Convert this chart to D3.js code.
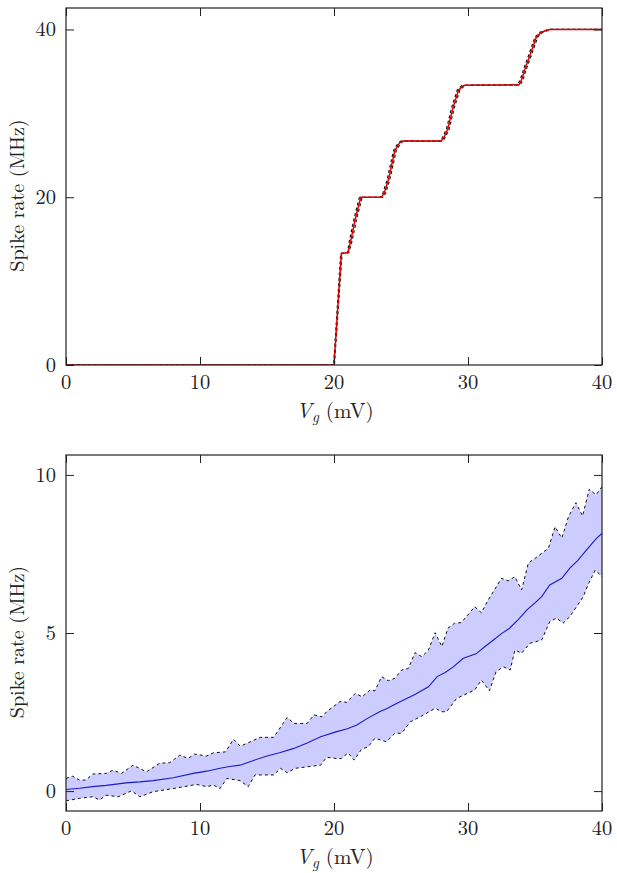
<!DOCTYPE html>
<html><head><meta charset="utf-8">
<script src="https://cdn.jsdelivr.net/npm/d3@7"></script>
<style>body{margin:0;background:#fff}svg{display:block}</style>
</head><body><svg id="c" width="617" height="873"></svg>
<script>
// ---------- Top panel data ----------
const topTicksX = [0, 10, 20, 30, 40];
const topTicksY = [0, 20, 40];
const topMeanX  = [0, 20.0, 20.55, 21.05, 21.25, 21.6, 22.0, 23.55, 23.75, 24.05, 24.55, 24.9, 25.1, 28.0, 28.2, 28.5, 28.9, 29.3, 29.65, 29.8, 33.8, 34.0, 34.3, 34.6, 35.1, 35.5, 36.1, 40];
const topMeanY  = [0, 0, 13.3, 13.4, 14.8, 17.5, 20.0, 20.0, 20.5, 22.0, 25.6, 26.5, 26.7, 26.7, 27.1, 28.2, 30.8, 32.8, 33.3, 33.35, 33.4, 34.0, 35.5, 36.8, 39.1, 39.7, 40.0, 40];
const topUpperX = [0, 19.97, 20.5, 21.0, 21.15, 21.5, 21.9, 23.45, 23.65, 23.95, 24.45, 24.8, 25.0, 27.9, 28.1, 28.4, 28.8, 29.2, 29.55, 29.7, 33.7, 33.9, 34.2, 34.5, 35.0, 35.4, 36.0, 40];
const topLowerX = [0, 20.03, 20.6, 21.1, 21.35, 21.7, 22.1, 23.65, 23.85, 24.15, 24.65, 25.0, 25.2, 28.1, 28.3, 28.6, 29.0, 29.4, 29.75, 29.9, 33.9, 34.1, 34.4, 34.7, 35.2, 35.6, 36.2, 40];

// ---------- Bottom panel data ----------
const botTicksX = [0, 10, 20, 30, 40];
const botTicksY = [0, 5, 10];
const botMeanX = [0, 1.0, 2.0, 3.0, 4.5, 5.5, 6.5, 8.0, 9.5, 10.5, 11.5, 12.2, 13.0, 14.0, 15.0, 16.0, 17.0, 18.0, 19.0, 20.2, 21.0, 21.7, 22.5, 23.4, 24.0, 24.7, 26.0, 27.05, 27.7, 28.3, 28.9, 29.65, 30.6, 31.2, 31.9, 32.5, 33.1, 33.8, 34.4, 35.0, 35.5, 36.1, 37.0, 37.6, 38.2, 38.85, 39.6, 40];
const botMeanY = [0.05, 0.09, 0.14, 0.18, 0.26, 0.29, 0.33, 0.42, 0.56, 0.63, 0.72, 0.78, 0.82, 0.97, 1.11, 1.22, 1.35, 1.52, 1.72, 1.88, 1.97, 2.09, 2.30, 2.51, 2.62, 2.78, 3.05, 3.30, 3.62, 3.75, 3.93, 4.20, 4.34, 4.55, 4.78, 4.98, 5.15, 5.45, 5.73, 5.95, 6.15, 6.52, 6.73, 7.05, 7.30, 7.63, 8.0, 8.15];
const botUpperX = [0, 0.5, 1.0, 1.5, 2.0, 3.0, 3.5, 4.15, 5.0, 6.0, 7.0, 7.75, 8.5, 9.1, 9.6, 10.5, 11.0, 11.9, 12.5, 13.0, 13.5, 14.5, 15.5, 16.5, 17.0, 18.0, 18.5, 19.1, 19.45, 20.45, 20.95, 21.6, 22.1, 22.7, 23.05, 23.55, 24.05, 24.55, 25.05, 25.55, 26.05, 26.55, 27.05, 27.55, 28.05, 28.5, 29.0, 29.5, 30.5, 31.0, 31.5, 32.5, 33.0, 33.5, 34.0, 34.5, 35.0, 36.0, 36.5, 37.0, 37.5, 38.05, 38.55, 39.05, 39.55, 40];
const botUpperY = [0.40, 0.47, 0.35, 0.35, 0.54, 0.56, 0.66, 0.56, 0.82, 0.61, 0.88, 0.90, 1.14, 1.03, 1.17, 1.11, 1.21, 1.24, 1.64, 1.42, 1.51, 1.70, 1.70, 2.33, 2.14, 2.14, 2.41, 2.35, 2.51, 2.83, 2.81, 3.09, 2.98, 3.20, 3.17, 3.62, 3.49, 3.57, 3.83, 3.88, 4.38, 4.25, 4.46, 5.01, 4.57, 5.15, 5.31, 5.33, 5.83, 5.64, 6.04, 6.73, 6.65, 6.78, 6.36, 7.21, 7.36, 7.68, 8.36, 8.00, 8.68, 9.12, 8.70, 9.55, 9.37, 9.63];
const botLowerX = [0, 1.0, 2.0, 2.5, 3.0, 3.9, 4.9, 5.5, 6.5, 8.0, 9.75, 10.5, 11.0, 11.5, 12.0, 13.0, 13.6, 14.1, 15.5, 16.0, 16.5, 17.1, 19.0, 19.45, 20.2, 20.55, 21.05, 21.5, 22.05, 22.55, 23.05, 23.9, 24.55, 25.05, 25.7, 26.7, 27.55, 28.05, 28.4, 29.15, 30.5, 31.0, 31.6, 32.1, 32.65, 33.15, 33.5, 34.0, 34.6, 35.5, 36.1, 36.6, 37.1, 37.6, 38.1, 38.6, 39.0, 39.5, 40];
const botLowerY = [-0.31, -0.23, -0.18, -0.28, -0.13, -0.18, 0.01, -0.18, -0.02, 0.08, 0.21, 0.14, 0.19, 0.08, 0.40, 0.33, 0.14, 0.51, 0.51, 0.72, 0.58, 0.72, 0.82, 1.07, 1.03, 1.03, 1.21, 0.98, 1.32, 1.40, 1.67, 1.56, 1.83, 1.83, 2.19, 2.41, 2.62, 2.51, 2.51, 2.93, 3.20, 3.51, 3.17, 3.78, 3.93, 3.83, 4.46, 4.36, 4.67, 4.78, 5.36, 5.47, 5.31, 5.52, 5.83, 6.15, 6.57, 6.99, 6.78];

const xLabel = ["V", "g", " (mV)"];
const yLabel = "Spike rate (MHz)";

const FONT = "Latin Modern Roman";
const svg = d3.select("#c");
const L = 66, R = 602, TICK = 8;

function panel(cfg) {
  const x = d3.scaleLinear().domain([0, 40]).range([L, R]);
  const y = d3.scaleLinear().domain(cfg.yDom).range([cfg.bottom, cfg.top]);
  const g = svg.append("g");
  const clipId = "clip" + cfg.id;
  svg.append("clipPath").attr("id", clipId).append("rect")
    .attr("x", L).attr("y", cfg.top).attr("width", R - L).attr("height", cfg.bottom - cfg.top);
  const plot = g.append("g").attr("clip-path", `url(#${clipId})`);
  cfg.draw(plot, x, y);

  const clean = s => { s.select(".domain").remove(); s.selectAll("line").attr("stroke", "#222"); };
  g.append("g").attr("transform", `translate(0,${cfg.bottom})`)
    .call(d3.axisBottom(x).tickValues(cfg.tx).tickSize(-TICK).tickFormat("")).call(clean);
  g.append("g").attr("transform", `translate(0,${cfg.top})`)
    .call(d3.axisTop(x).tickValues(cfg.tx).tickSize(-TICK).tickFormat("")).call(clean);
  g.append("g").attr("transform", `translate(${L},0)`)
    .call(d3.axisLeft(y).tickValues(cfg.ty).tickSize(-TICK).tickFormat("")).call(clean);
  g.append("g").attr("transform", `translate(${R},0)`)
    .call(d3.axisRight(y).tickValues(cfg.ty).tickSize(-TICK).tickFormat("")).call(clean);

  g.append("rect").attr("x", L).attr("y", cfg.top).attr("width", R - L).attr("height", cfg.bottom - cfg.top)
    .attr("fill", "none").attr("stroke", "#222").attr("stroke-width", 1.2);

  g.selectAll(".xl").data(cfg.tx).enter().append("text")
    .attr("font-family", FONT).attr("fill", "#222")
    .attr("x", d => x(d)).attr("y", cfg.bottom + 24).attr("text-anchor", "middle")
    .attr("font-size", 20.5).text(d => d);
  g.selectAll(".yl").data(cfg.ty).enter().append("text")
    .attr("font-family", FONT).attr("fill", "#222")
    .attr("x", L - 10).attr("y", d => y(d) + 7).attr("text-anchor", "end")
    .attr("font-size", 20.5).text(d => d);

  const xt = g.append("text").attr("font-family", FONT).attr("fill", "#222")
    .attr("x", 335).attr("y", cfg.bottom + 53).attr("text-anchor", "middle").attr("font-size", 21);
  xt.append("tspan").attr("font-style", "italic").text(xLabel[0]);
  xt.append("tspan").attr("font-style", "italic").attr("font-size", 15).attr("dy", 4).text(xLabel[1]);
  xt.append("tspan").attr("dy", -4).text(xLabel[2]);
  g.append("text").attr("font-family", FONT).attr("fill", "#222")
    .attr("transform", `translate(24,${(cfg.top + cfg.bottom) / 2 + 9}) rotate(-90)`)
    .attr("text-anchor", "middle").attr("font-size", 20).text(yLabel);
}

panel({
  id: "t", top: 8, bottom: 365, yDom: [0, 42.56], tx: topTicksX, ty: topTicksY,
  draw: (p, x, y) => {
    const path = (xs) => d3.line().x((d, i) => x(xs[i])).y(d => y(d))(topMeanY);
    p.append("path").attr("d", path(topUpperX)).attr("fill", "none").attr("stroke", "#111").attr("stroke-width", 1.2).attr("stroke-dasharray", "3,2.5");
    p.append("path").attr("d", path(topLowerX)).attr("fill", "none").attr("stroke", "#111").attr("stroke-width", 1.2).attr("stroke-dasharray", "3,2.5");
    p.append("path").attr("d", path(topMeanX)).attr("fill", "none").attr("stroke", "#e00000").attr("stroke-width", 1.5);
  }
});

panel({
  id: "b", top: 455, bottom: 811, yDom: [-0.63, 10.63], tx: botTicksX, ty: botTicksY,
  draw: (p, x, y) => {
    const up = botUpperX.map((v, i) => [v, botUpperY[i]]);
    const lo = botLowerX.map((v, i) => [v, botLowerY[i]]);
    const ln = d3.line().x(d => x(d[0])).y(d => y(d[1]));
    p.append("path").attr("d", ln(up.concat(lo.slice().reverse())) + "Z").attr("fill", "#ccccff").attr("stroke", "none");
    p.append("path").attr("d", ln(up)).attr("fill", "none").attr("stroke", "#111").attr("stroke-width", 1).attr("stroke-dasharray", "3,3");
    p.append("path").attr("d", ln(lo)).attr("fill", "none").attr("stroke", "#111").attr("stroke-width", 1).attr("stroke-dasharray", "3,3");
    p.append("path").attr("d", ln(botMeanX.map((v, i) => [v, botMeanY[i]]))).attr("fill", "none").attr("stroke", "#1a1acc").attr("stroke-width", 1.1);
  }
});
</script></body></html>
